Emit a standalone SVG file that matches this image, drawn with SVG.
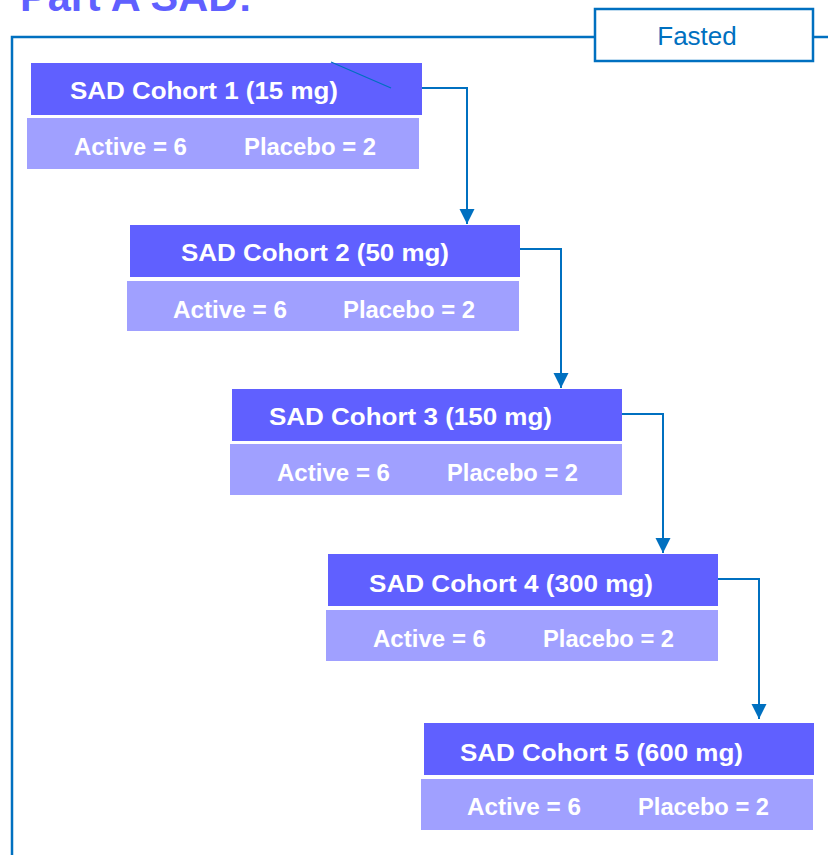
<svg xmlns="http://www.w3.org/2000/svg" width="828" height="855" viewBox="0 0 828 855">
<style>
.hdr{fill:#6060FF}
.sub{fill:#A0A0FF}
.t{font-family:"Liberation Sans",Arial,sans-serif;font-weight:bold;font-size:24px;fill:#FFFFFF}
.con{fill:none;stroke:#0070C0;stroke-width:2}
.frame{fill:none;stroke:#0070C0;stroke-width:2.5}
</style>
<defs>
<marker id="ah" markerUnits="userSpaceOnUse" markerWidth="16" markerHeight="16" refX="15" refY="7.5" orient="auto" viewBox="0 0 16 16">
<path d="M0,0 L15,7.5 L0,15 Z" fill="#0070C0"/>
</marker>
</defs>
<text x="20" y="11" style="font-family:'Liberation Sans',Arial,sans-serif;font-weight:bold;font-size:42px;fill:#6060FF" textLength="232" lengthAdjust="spacingAndGlyphs">Part A SAD:</text>
<g id="frame">
<path class="frame" d="M12,855 L12,37 L595,37"/>
<path class="frame" d="M813,37 L828,37"/>
</g>
<g id="fasted">
<rect x="595" y="9" width="218" height="52" fill="#FFFFFF" stroke="#0070C0" stroke-width="2.5"/>
<text x="697" y="45" text-anchor="middle" style="font-family:'Liberation Sans',Arial,sans-serif;font-size:26px;fill:#0070C0">Fasted</text>
</g>
<g id="cohort1">
<rect class="hdr" x="31" y="63" width="391" height="52"/>
<rect class="sub" x="27" y="118" width="392" height="51"/>
<line x1="331" y1="62" x2="391" y2="88" stroke="#0070C0" stroke-width="1.3"/>
<text class="t" x="70" y="99" textLength="268" lengthAdjust="spacingAndGlyphs">SAD Cohort 1 (15 mg)</text>
<text class="t" x="74" y="155" textLength="113" lengthAdjust="spacingAndGlyphs">Active = 6</text>
<text class="t" x="244" y="155" textLength="132" lengthAdjust="spacingAndGlyphs">Placebo = 2</text>
</g>
<g id="cohort2">
<rect class="hdr" x="130" y="225" width="390" height="52"/>
<rect class="sub" x="127" y="281" width="392" height="50"/>
<text class="t" x="181" y="261" textLength="268" lengthAdjust="spacingAndGlyphs">SAD Cohort 2 (50 mg)</text>
<text class="t" x="173" y="318" textLength="114" lengthAdjust="spacingAndGlyphs">Active = 6</text>
<text class="t" x="343" y="318" textLength="132" lengthAdjust="spacingAndGlyphs">Placebo = 2</text>
</g>
<g id="cohort3">
<rect class="hdr" x="232" y="389" width="390" height="52"/>
<rect class="sub" x="230" y="444" width="392" height="51"/>
<text class="t" x="269" y="425" textLength="283" lengthAdjust="spacingAndGlyphs">SAD Cohort 3 (150 mg)</text>
<text class="t" x="277" y="481" textLength="113" lengthAdjust="spacingAndGlyphs">Active = 6</text>
<text class="t" x="447" y="481" textLength="131" lengthAdjust="spacingAndGlyphs">Placebo = 2</text>
</g>
<g id="cohort4">
<rect class="hdr" x="328" y="554" width="390" height="52"/>
<rect class="sub" x="326" y="610" width="392" height="51"/>
<text class="t" x="369" y="592" textLength="284" lengthAdjust="spacingAndGlyphs">SAD Cohort 4 (300 mg)</text>
<text class="t" x="373" y="647" textLength="113" lengthAdjust="spacingAndGlyphs">Active = 6</text>
<text class="t" x="543" y="647" textLength="131" lengthAdjust="spacingAndGlyphs">Placebo = 2</text>
</g>
<g id="cohort5">
<rect class="hdr" x="424" y="723" width="390" height="52"/>
<rect class="sub" x="421" y="779" width="392" height="51"/>
<text class="t" x="460" y="761" textLength="283" lengthAdjust="spacingAndGlyphs">SAD Cohort 5 (600 mg)</text>
<text class="t" x="467" y="815" textLength="114" lengthAdjust="spacingAndGlyphs">Active = 6</text>
<text class="t" x="638" y="815" textLength="131" lengthAdjust="spacingAndGlyphs">Placebo = 2</text>
</g>
<g id="connectors">
<path class="con" d="M422,88 L467,88 L467,224" marker-end="url(#ah)"/>
<path class="con" d="M520,249 L561,249 L561,388" marker-end="url(#ah)"/>
<path class="con" d="M622,414 L663,414 L663,553" marker-end="url(#ah)"/>
<path class="con" d="M718,579 L759,579 L759,719" marker-end="url(#ah)"/>
</g>
</svg>
